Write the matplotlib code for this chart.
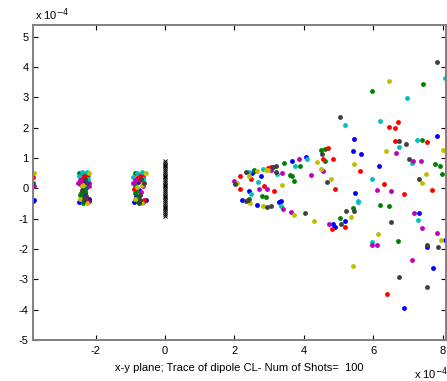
import matplotlib
matplotlib.use("Agg")
import matplotlib.pyplot as plt

plt.rcParams['font.family'] = ['Liberation Sans', 'DejaVu Sans']

# all positions in units of 1e-4 (axes show "x 10^-4")
# ---- blue shots
b_x = [2.51, 2.56, 2.76, 3.65, 4.07, 2.42, 2.21, 2.64, 3.35, 3.28, 5.43, 5.41, 5.63, 5.46, 5.19,
       4.83, 4.88, 7.82, 6.15, 7.30, 7.53, 8.07, 7.73, 6.89,
       -2.33, -2.33, -2.30, -2.20, -2.47, -2.18, -2.40, -2.36,
       -0.77, -0.89, -0.64, -0.56, -0.83, -0.74,
       -3.78, -3.79]
b_y = [0.52, 0.56, 0.41, 0.89, 1.02, -0.09, -0.39, -0.54, -0.42, -0.46, 1.62, 1.22, 1.13, -0.17, -1.07,
       -1.19, -1.28, 1.72, 0.74, -0.83, -1.94, -1.72, -2.62, -3.93,
       0.26, -0.07, -0.16, -0.35, -0.45, -0.42, -0.25, 0.20,
       0.20, -0.45, -0.45, -0.37, -0.25, -0.05,
       -0.37, -0.43]
# ---- green shots
g_x = [2.56, 3.42, 3.88, 3.60, 3.65, 3.70, 4.50, 4.60, 4.60, 2.79, 2.91, 2.42, 5.40, 5.03, 7.39,
       7.77, 7.91, 7.98, 6.20, 6.45, 6.70, 7.43, 5.95,
       -2.47, -2.32, -2.27, -2.43, -2.45, -2.39, -2.37, -2.30, -2.21,
       -0.87, -0.80, -0.87, -0.77, -0.77, -0.85, -0.68]
g_y = [0.59, 0.82, 0.75, 0.44, 0.40, 0.25, 1.25, 1.31, 0.91, -0.25, -0.30, -0.34, -0.66, -0.98, 1.59,
       0.80, 0.74, 0.46, -0.55, -0.58, -1.73, 3.45, 3.21,
       0.50, 0.46, 0.02, -0.16, -0.23, -0.33, -0.49, -0.10, 0.44,
       0.49, -0.09, -0.17, -0.29, -0.45, 0.10, 0.44]
# ---- red shots
r_x = [2.17, 2.49, 2.15, 2.96, 3.03, 3.06, 4.56, 2.85, 3.13, 4.68, 4.83, 4.89, 5.62, 5.19, 4.81,
       6.62, 7.54, 6.31, 6.89, 7.68, 6.39, 6.70, 6.45, 6.62,
       -2.41, -2.27, -2.42, -2.27, -2.22, -2.35, -2.42,
       -0.80, -0.62, -0.72, -0.60, -0.75, -0.88,
       -3.79]
r_y = [0.41, 0.31, -0.02, 0.68, 0.64, 0.69, 0.97, 0.08, -0.08, 1.32, 0.98, -0.02, 0.58, -1.28, -1.35,
       1.56, 1.52, 0.13, -0.18, -0.07, -3.50, 2.20, 2.02, 1.99,
       0.35, 0.37, 0.24, -0.29, -0.45, 0.45, 0.10,
       0.34, 0.37, 0.26, -0.37, 0.44, -0.02,
       0.37]
# ---- cyan shots
c_x = [2.42, 2.67, 2.83, 3.23, 3.73, 4.08, 2.47, 3.35, 5.55, 5.55, 6.75, 7.25, 7.11, 5.96, 7.27,
       5.96, 5.19, 6.18, 8.07, 6.97,
       -2.38, -2.24, -2.48, -2.22,
       -0.80, -0.65, -0.91, -0.62]
c_y = [0.53, 0.20, 0.65, 0.47, 0.75, 0.97, -0.20, -0.57, -0.41, -0.46, 1.35, 1.59, 0.85, 0.31, -1.06,
       -1.77, 2.08, 2.23, 3.64, 2.99,
       0.54, 0.54, 0.40, 0.30,
       0.50, 0.54, 0.37, 0.30]
# ---- magenta shots
m_x = [1.99, 3.05, 3.37, 3.86, 4.19, 4.56, 2.71, 2.93, 3.40, 3.62, 4.73, 6.65, 7.14, 7.37, 6.09,
       6.50, 7.17, 7.39, 5.96, 6.10, 7.82, 7.11,
       -2.50, -2.18, -2.20, -2.31, -2.45,
       -0.91, -0.62, -0.85, -0.70,
       -3.78]
m_y = [0.25, 0.59, 0.50, 0.96, 0.44, 0.58, -0.02, -0.02, -0.68, -0.79, -1.16, 1.16, 0.91, 0.89, -0.07,
       -0.09, -0.83, -1.31, -1.86, -1.86, -1.46, -2.37,
       0.17, 0.17, 0.07, -0.43, 0.28,
       0.17, 0.07, 0.28, -0.12,
       0.07]
# ---- yellow shots
y_x = [2.64, 2.43, 2.08, 2.90, 2.96, 4.39, 4.50, 3.38, 2.45, 2.83, 3.70, 4.29, 4.78, 5.43, 5.35,
       6.37, 8.01, 7.52, 7.39, 6.12, 7.96, 5.40, 6.45,
       -2.18, -2.40, -2.45, -2.36, -2.25,
       -0.56, -0.81, -0.86, -0.66, -0.66,
       -3.78]
y_y = [0.57, 0.42, 0.17, 0.62, 0.59, 0.86, 0.63, 0.10, -0.50, -0.57, -0.89, -1.08, 0.31, 0.80, -0.95,
       1.23, 1.25, 0.46, 0.16, -1.50, -1.72, -2.56, 3.54,
       0.52, 0.07, -0.34, 0.12, -0.50,
       0.49, 0.04, -0.34, 0.12, -0.50,
       0.52]
# ---- black shots
k_x = [2.33, 2.02, 3.11, 3.20, 3.20, 4.53, 2.33, 2.38, 2.93, 3.04, 4.04, 4.66, 5.44, 5.21, 5.06,
       6.73, 6.94, 7.02, 7.32, 6.50, 7.55, 7.85, 6.73, 7.55, 5.03, 7.82,
       -2.24, -2.38, -2.27, -2.30, -2.33,
       -0.60, -0.72, -0.72, -0.70, -0.74,
       -3.79]
k_y = [0.53, 0.13, 0.70, 0.75, 0.53, 1.13, -0.42, -0.39, -0.60, -0.59, -0.83, 0.21, -0.76, -0.76, -1.19,
       1.55, 1.47, 0.95, 0.31, -1.12, -1.86, -1.95, -2.93, -3.26, 2.35, 4.15,
       0.17, -0.04, -0.24, 0.30, -0.38,
       0.17, -0.23, -0.40, 0.30, -0.50,
       0.19]
# ---- dipole positions (black x)
dip_y = [-0.90, -0.84, -0.78, -0.72, -0.66, -0.60, -0.54, -0.48, -0.42, -0.36, -0.30, -0.24, -0.18,
         -0.12, -0.06, 0.00, 0.06, 0.12, 0.18, 0.24, 0.30, 0.36, 0.42, 0.48, 0.54, 0.60, 0.66, 0.72,
         0.78, 0.84, 0.90]
dip_x = [0.0] * len(dip_y)

xticks = [-2, 0, 2, 4, 6, 8]
yticks = [-5, -4, -3, -2, -1, 0, 1, 2, 3, 4, 5]
xlabel = "x-y plane; Trace of dipole CL- Num of Shots=  100"

series = [
    (b_x, b_y, (0, 0, 1)),
    (g_x, g_y, (0, 0.5, 0)),
    (r_x, r_y, (1, 0, 0)),
    (c_x, c_y, (0, 0.75, 0.75)),
    (m_x, m_y, (0.75, 0, 0.75)),
    (y_x, y_y, (0.75, 0.75, 0)),
    (k_x, k_y, (0.25, 0.25, 0.25)),
]

fig = plt.figure(figsize=(4.47, 3.81), dpi=100)
ax = fig.add_axes([33 / 447, 41 / 381, 413 / 447, 315.5 / 381])

for xs, ys, col in series:
    ax.plot(xs, ys, 'o', ms=3.5, mew=0, color=col, linestyle='none')
ax.plot(dip_x, dip_y, 'x', ms=3, mew=0.7, color='black', linestyle='none')

ax.set_xlim(-3.80, 8.09)
ax.set_ylim(-5.0, 5.4)
ax.set_xticks(xticks)
ax.set_yticks(yticks)
ax.set_xticklabels([str(t) for t in xticks])
ax.set_yticklabels([str(t) for t in yticks])
ax.tick_params(direction='in', length=3.5, width=0.8, top=True, right=True,
               labelsize=8, colors='black')
ax.tick_params(axis='x', pad=4.5)
ax.tick_params(axis='y', pad=3)
for s in ax.spines.values():
    s.set_color('#808080')
    s.set_linewidth(1.4)
ax.set_xlabel(xlabel, fontsize=8, labelpad=5)

fig.text(35 / 447, 1 - 15 / 381, r"x 10$^{-4}$", fontsize=8, va='center', ha='left')
fig.text(414 / 447, 1 - 374 / 381, r"x 10$^{-4}$", fontsize=8, va='center', ha='left')

fig.savefig("out.png", dpi=100)
